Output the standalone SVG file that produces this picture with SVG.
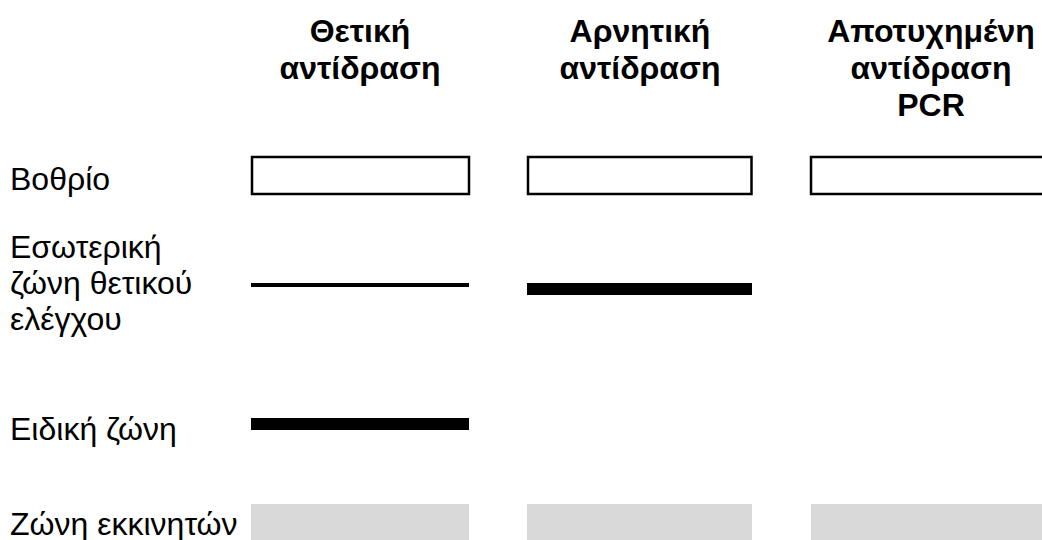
<svg xmlns="http://www.w3.org/2000/svg" width="1042" height="540" viewBox="0 0 1042 540">
<style>
.h{font-family:"Liberation Sans",Arial,sans-serif;font-size:32px;font-weight:bold;fill:#000;text-anchor:middle}
.l{font-family:"Liberation Sans",Arial,sans-serif;font-size:32px;fill:#000}
.well{fill:#fff;stroke:#000;stroke-width:2.5}
.primer{fill:#d9d9d9}
.bar{fill:#000}
</style>
<rect width="1042" height="540" fill="#fff"/>
<g id="headers">
<text class="h" x="360" y="42">Θετική</text>
<text class="h" x="360" y="79">αντίδραση</text>
<text class="h" x="640" y="42">Αρνητική</text>
<text class="h" x="640" y="79">αντίδραση</text>
<text class="h" x="931" y="42">Αποτυχημένη</text>
<text class="h" x="931" y="79">αντίδραση</text>
<text class="h" x="931" y="116">PCR</text>
</g>
<g id="row-labels">
<text class="l" x="10" y="190">Βοθρίο</text>
<text class="l" x="10" y="258">Εσωτερική</text>
<text class="l" x="10" y="294">ζώνη θετικού</text>
<text class="l" x="10" y="330">ελέγχου</text>
<text class="l" x="10" y="440">Ειδική ζώνη</text>
<text class="l" x="10" y="535">Ζώνη εκκινητών</text>
</g>
<g id="positive">
<rect class="well" x="252" y="157" width="217" height="37"/>
<rect class="bar" x="251" y="283" width="218" height="4"/>
<rect class="bar" x="251" y="418" width="218" height="12"/>
<rect class="primer" x="251" y="504" width="218" height="40"/>
</g>
<g id="negative">
<rect class="well" x="528" y="157" width="223.5" height="37"/>
<rect class="bar" x="527" y="283" width="225" height="12"/>
<rect class="primer" x="527" y="504" width="225" height="40"/>
</g>
<g id="failed">
<rect class="well" x="811" y="157" width="240" height="37"/>
<rect class="primer" x="811" y="504" width="240" height="40"/>
</g>
<g id="connectors"></g>
</svg>
